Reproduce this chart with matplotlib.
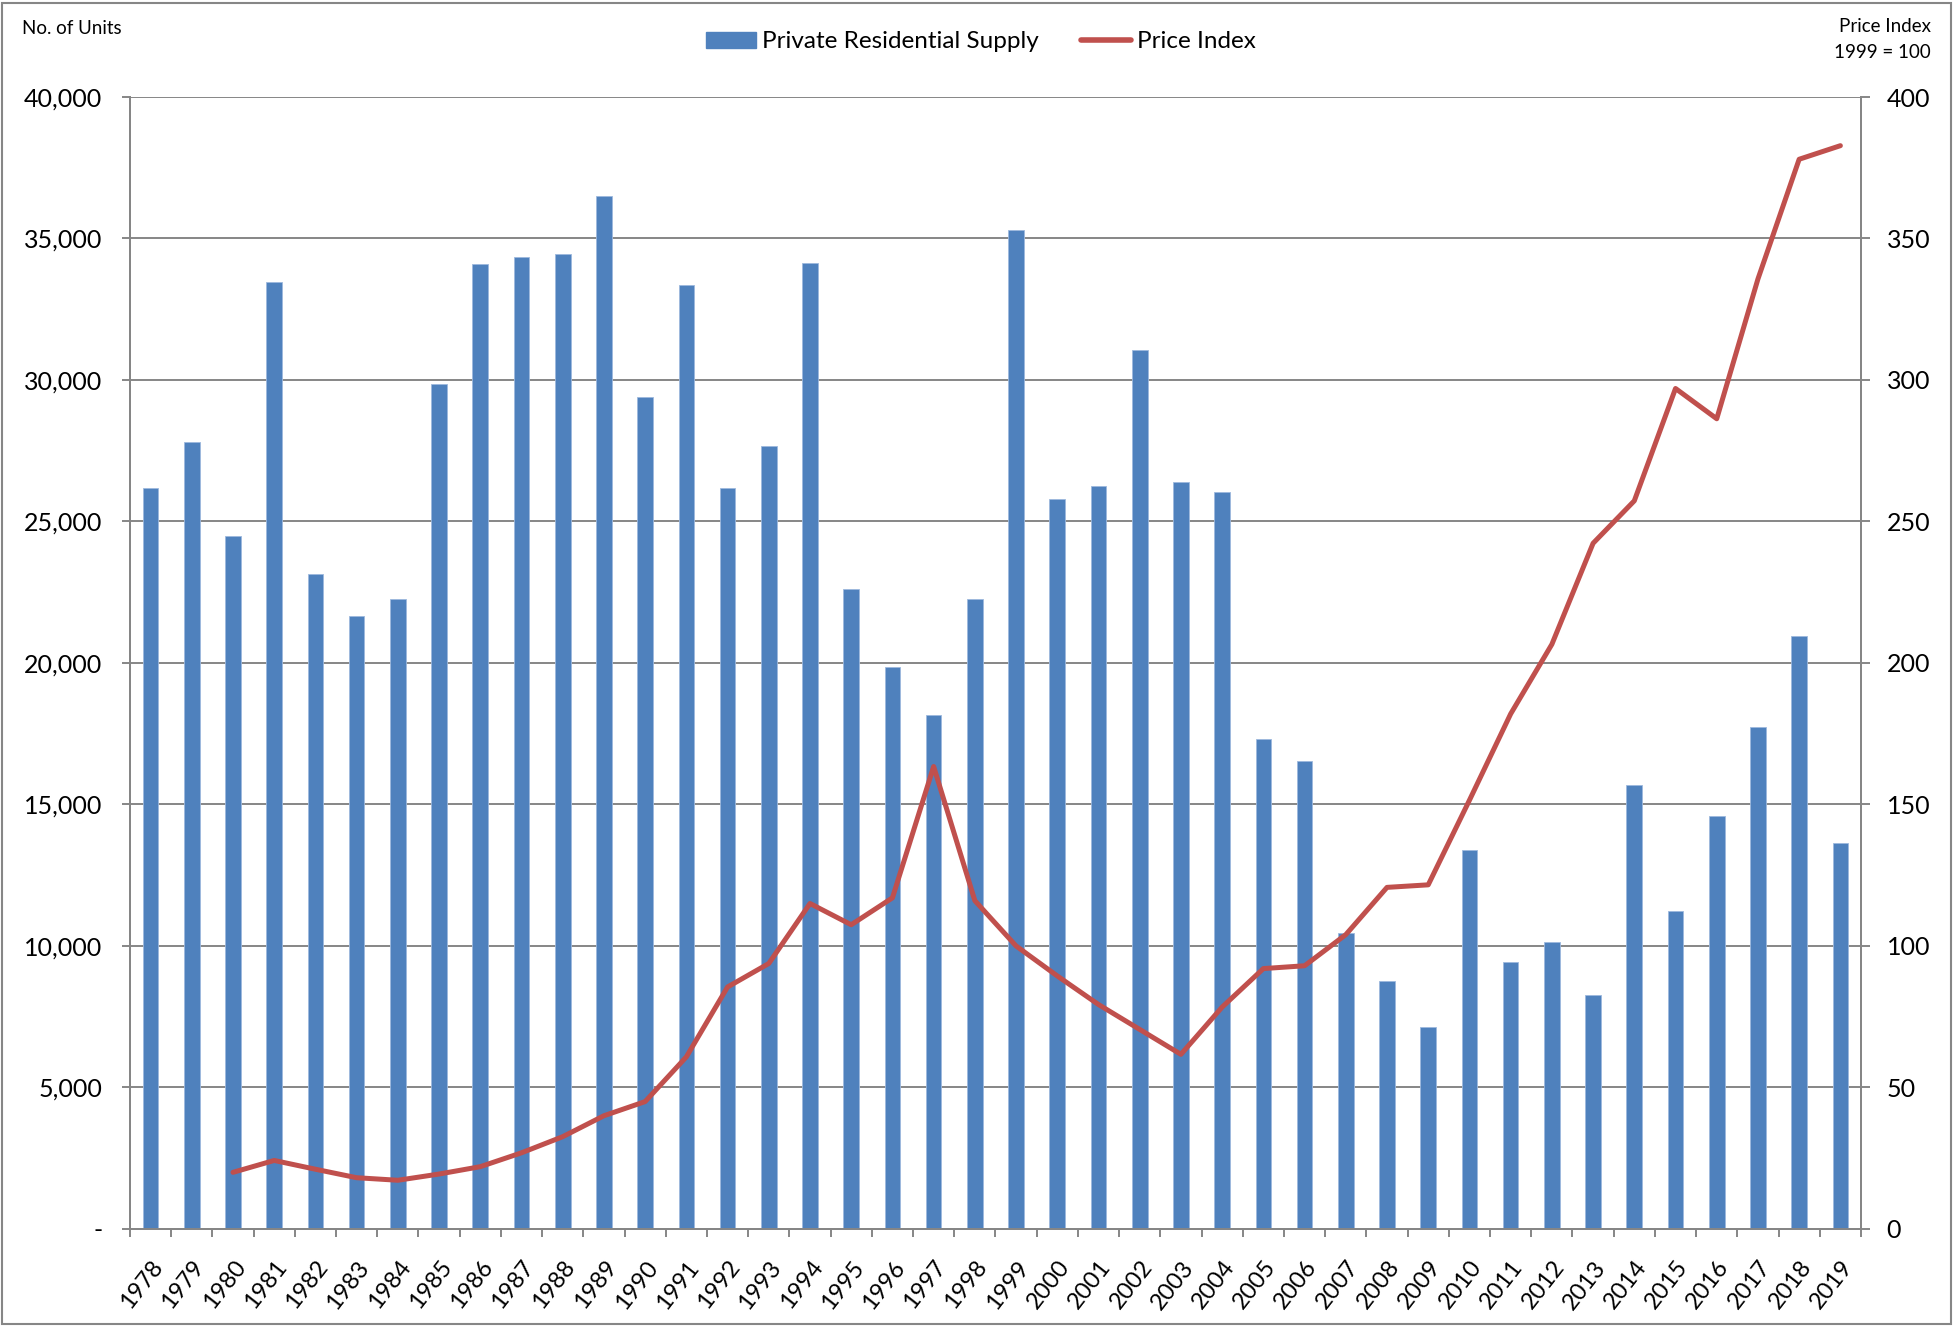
import numpy as np
import matplotlib.pyplot as plt
from matplotlib.patches import Patch, Rectangle
from matplotlib.lines import Line2D
from matplotlib.ticker import FuncFormatter

plt.rcParams['font.family'] = ['Lato', 'DejaVu Sans']

# data
years = list(range(1978, 2020))
supply = [26200, 27800, 24500, 33450, 23150, 21650, 22250, 29850, 34100, 34350,
          34450, 36500, 29400, 33350, 26200, 27650, 34150, 22600, 19850, 18150,
          22250, 35300, 25800, 26250, 31050, 26400, 26050, 17300, 16550, 10450,
          8750, 7150, 13400, 9450, 10150, 8250, 15700, 11250, 14600, 17750,
          20950, 13650]
price_years = list(range(1980, 2020))
price_index = [20.0, 24.2, 21.1, 18.1, 17.2, 19.4, 22.0, 26.9, 32.6, 40.0,
               45.0, 60.8, 85.5, 93.8, 115.0, 107.5, 117.0, 163.4, 116.0, 100.0,
               89.4, 79.3, 70.5, 61.7, 78.4, 92.0, 93.0, 104.0, 120.7, 121.6,
               151.5, 182.0, 206.6, 242.3, 257.3, 297.0, 286.3, 335.7, 378.0, 382.8]

bar_col = '#4F81BD'
line_col = '#C0504D'
grid_col = '#868686'

fig = plt.figure(figsize=(19.54, 13.27), dpi=100)
ax = fig.add_axes([0.0665, 0.0739, 0.9524 - 0.0665, 0.9269 - 0.0739])
ax2 = ax.twinx()

x = np.arange(len(years))
ax.bar(x, supply, width=0.38, color=bar_col, edgecolor='#9DB9DE', linewidth=0.6, zorder=3)
px = [years.index(y) for y in price_years]
ax2.plot(px, price_index, color=line_col, lw=3.6, solid_capstyle='round', zorder=4)

ax.set_xlim(-0.5, len(years) - 0.5)
ax.set_ylim(0, 40000)
ax2.set_ylim(0, 400)
ax.set_yticks(np.arange(0, 40001, 5000))
ax2.set_yticks(np.arange(0, 401, 50))
ax.yaxis.set_major_formatter(FuncFormatter(lambda v, p: '-' if v == 0 else f'{int(v):,}'))
ax.grid(axis='y', color=grid_col, lw=1.4, zorder=0)
ax.set_axisbelow(True)

ax.set_xticks(x)
ax.set_xticklabels([str(y) for y in years], rotation=52, ha='right', rotation_mode='anchor')
ax.set_xticks(np.arange(-0.5, len(years)), minor=True)
ax.tick_params(axis='x', which='major', length=0, pad=20, labelsize=17)
ax.tick_params(axis='x', which='minor', length=5.5, width=1.4, color=grid_col)
ax.tick_params(axis='y', length=6, width=1.4, color=grid_col, pad=14, labelsize=18)
ax2.tick_params(axis='y', length=6.5, width=1.4, color=grid_col, pad=12, labelsize=18)

for a in (ax, ax2):
    for s in a.spines.values():
        s.set_color(grid_col)
        s.set_linewidth(1.4)
    a.spines['top'].set_visible(False)

fig.text(22 / 1954, 1 - 28 / 1327, 'No. of Units', fontsize=13.5, va='center', ha='left')
fig.text(1931 / 1954, 1 - 26 / 1327, 'Price Index', fontsize=13.5, va='center', ha='right')
fig.text(1931 / 1954, 1 - 52 / 1327, '1999 = 100', fontsize=13.5, va='center', ha='right')

handles = [Patch(facecolor=bar_col, edgecolor=bar_col),
           Line2D([0], [0], color=line_col, lw=4, solid_capstyle='round')]
fig.legend(handles, ['Private Residential Supply', 'Price Index'], loc='center',
           bbox_to_anchor=(0.502, 1 - 42 / 1327), ncol=2, frameon=False, fontsize=17.5,
           handlelength=2.05, handleheight=0.65, handletextpad=0.25, columnspacing=1.75)

fig.patches.append(Rectangle((2 / 1954, 3 / 1327), 1 - 5 / 1954, 1 - 6 / 1327,
                             transform=fig.transFigure, fill=False, edgecolor=grid_col, lw=1.5))

fig.savefig('out.png', dpi=100)
